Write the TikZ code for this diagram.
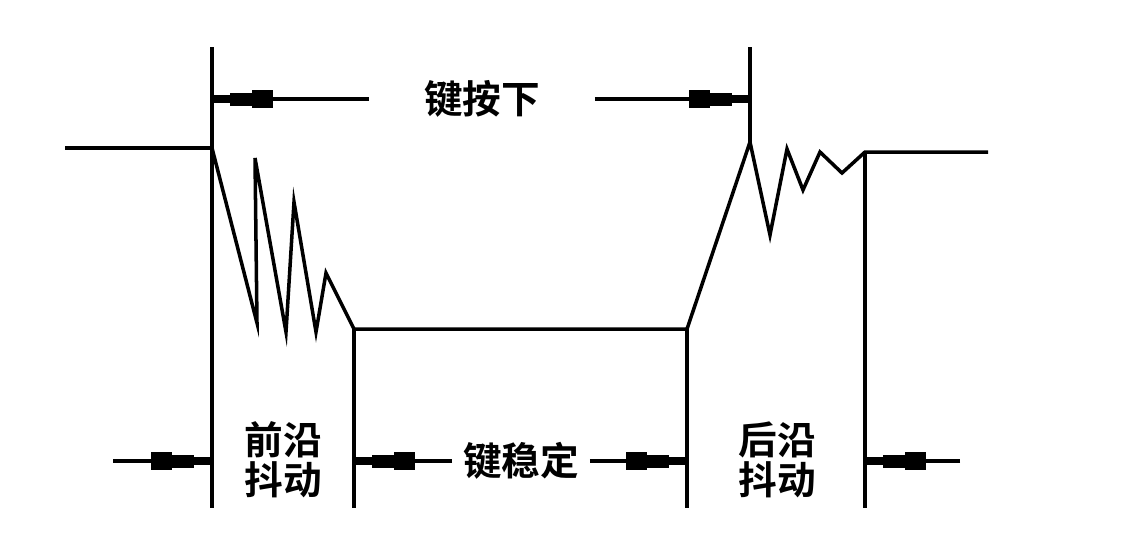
\documentclass[tikz,border=0pt]{standalone}
\usepackage{fontspec}
\usepackage{tikz}
\usetikzlibrary{arrows.meta}
\newfontfamily\cjk{Noto Sans CJK SC Bold}

\tikzset{
  dimtip/.tip={Rectangle[length=11.5pt,width=10pt,sep=0pt] Rectangle[length=13pt,width=7.4pt,sep=0pt] Rectangle[length=10pt,width=4.8pt,sep=0pt]}
}

\begin{document}
\begin{tikzpicture}[x=0.02cm,y=-0.02cm,
  wave/.style={line width=2pt,line join=miter},
  lbl/.style={font=\cjk\fontsize{22}{23}\selectfont,align=center,inner sep=0pt},
  dim/.style={line width=2pt,-dimtip}]
\useasboundingbox (0,0) rectangle (1126,552);
\draw[wave] (65,148) -- (212,148) -- (257,323) -- (255,158) -- (286,332) -- (294,202) -- (316,332) -- (326,273) -- (354,329) -- (687,329) -- (750,142) -- (770,235) -- (787,149) -- (803,190) -- (820,152) -- (842,173) -- (865,152) -- (988,152);
\draw[wave] (212,47) -- (212,508);
\draw[wave] (354,329) -- (354,508);
\draw[wave] (687,329) -- (687,508);
\draw[wave] (750,47) -- (750,142);
\draw[wave] (865,152) -- (865,508);

\coordinate (t1) at (212,99);
\coordinate (t2) at (750,99);
\coordinate (b1) at (212,461);
\coordinate (b2) at (354,461);
\coordinate (b3) at (687,461);
\coordinate (b5) at (865,461);
\coordinate (l0) at (113,461);
\coordinate (r0) at (960,461);

\node[lbl,inner xsep=31pt] (press) at (482,99) {键按下};
\node[lbl] (lead) at (283,460) {前沿\\抖动};
\node[lbl,inner xsep=6pt] (stable) at (521,461) {键稳定};
\node[lbl] (trail) at (777,460) {后沿\\抖动};

\draw[dim] (press.west) -- (t1);
\draw[dim] (press.east) -- (t2);
\draw[dim] (l0) -- (b1);
\draw[dim] (stable.west) -- (b2);
\draw[dim] (stable.east) -- (b3);
\draw[dim] (r0) -- (b5);
\end{tikzpicture}
\end{document}
